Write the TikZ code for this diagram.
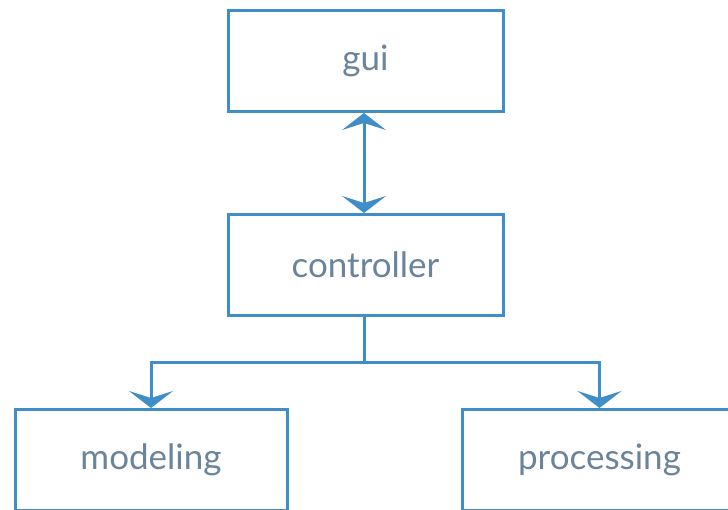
\documentclass[tikz,border=0pt]{standalone}
\usepackage{fontspec}
\setmainfont{Lato}
\usetikzlibrary{arrows.meta}
\definecolor{linkblue}{RGB}{64,142,200}
\definecolor{labelgrey}{RGB}{106,132,155}
\tikzset{
  module/.style={draw=linkblue, line width=3pt, fill=white, minimum width=275pt,
    minimum height=101pt, inner sep=0pt, text=labelgrey, font=\fontsize{35}{38}\selectfont},
  link/.style={draw=linkblue, line width=3pt, line join=miter,
    >={Stealth[width=44pt, length=17pt, inset=7pt]}}
}
\begin{document}
\begin{tikzpicture}[x=1pt, y=-1pt]
  \useasboundingbox[fill=white] (0,0) rectangle (728,509);
  \begin{scope}
    \clip (0,0) rectangle (728,509);
    \node[module] (gui) at (365.5,61) {gui};
    \node[module] (controller) at (365.5,265) {controller};
    \node[module, minimum width=272pt] (modeling) at (151,460) {modeling};
    \node[module] (processing) at (599.5,460) {processing};
    \coordinate (fork) at (364,362);
    \draw[link, <->] (gui.south -| fork) -- (controller.north -| fork);
    \draw[link] (controller.south -| fork) -- (fork);
    \draw[link, ->] (fork) -| (modeling.north);
    \draw[link, ->] (fork) -| (processing.north);
  \end{scope}
\end{tikzpicture}
\end{document}
